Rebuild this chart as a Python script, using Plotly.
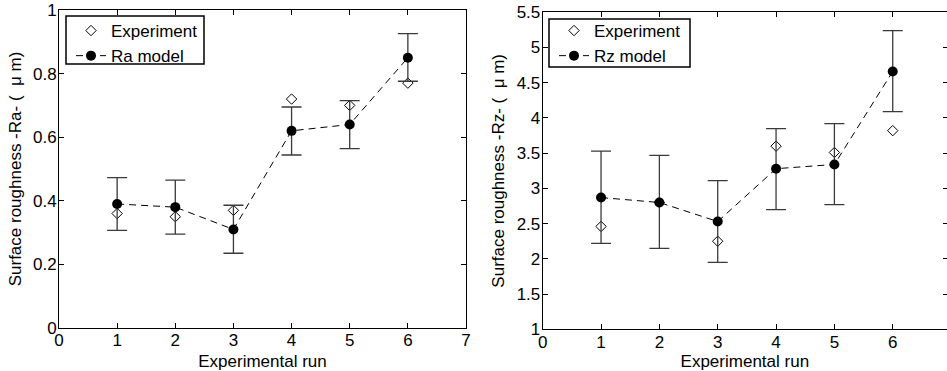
import plotly.graph_objects as go

runs = [1, 2, 3, 4, 5, 6]

ra_exp = [0.36, 0.35, 0.37, 0.72, 0.70, 0.77]
ra_model = [0.39, 0.38, 0.31, 0.62, 0.64, 0.85]
ra_err_plus = [0.083, 0.085, 0.076, 0.075, 0.075, 0.076]
ra_err_minus = [0.083, 0.085, 0.075, 0.076, 0.076, 0.074]

rz_exp = [2.46, 2.80, 2.25, 3.60, 3.51, 3.82]
rz_model = [2.87, 2.80, 2.53, 3.28, 3.34, 4.66]
rz_err_plus = [0.66, 0.67, 0.58, 0.57, 0.58, 0.58]
rz_err_minus = [0.65, 0.65, 0.58, 0.58, 0.57, 0.57]

ra_yticks = [0, 0.2, 0.4, 0.6, 0.8, 1]
ra_yticklabels = ["0", "0.2", "0.4", "0.6", "0.8", "1"]
rz_yticks = [1, 1.5, 2, 2.5, 3, 3.5, 4, 4.5, 5, 5.5]
rz_yticklabels = ["1", "1.5", "2", "2.5", "3", "3.5", "4", "4.5", "5", "5.5"]
left_xticks = [0, 1, 2, 3, 4, 5, 6, 7]
right_xticks = [0, 1, 2, 3, 4, 5, 6]

W, H = 947, 371
FONT = "Arial, Liberation Sans, sans-serif"
FS = 17

def px_x(p):
    return p / W

def px_y(p):
    return 1 - p / H

fig = go.Figure()

exp_marker = dict(symbol="diamond-open", size=8, color="black", line=dict(width=1, color="black"))
mod_marker = dict(symbol="circle", size=10, color="black")
err_style = dict(type="data", visible=True, color="#3a3a3a", thickness=1.3, width=10)

# Left panel
fig.add_trace(go.Scatter(x=runs, y=ra_exp, mode="markers", name="Experiment",
                         marker=exp_marker, xaxis="x", yaxis="y", legend="legend"))
fig.add_trace(go.Scatter(x=runs, y=ra_model, mode="lines+markers", name="Ra model",
                         marker=mod_marker, line=dict(color="black", width=1, dash="7px,5px"),
                         error_y=dict(array=ra_err_plus, arrayminus=ra_err_minus, symmetric=False, **err_style),
                         xaxis="x", yaxis="y", legend="legend"))
# Right panel
fig.add_trace(go.Scatter(x=runs, y=rz_exp, mode="markers", name="Experiment",
                         marker=exp_marker, xaxis="x2", yaxis="y2", legend="legend2"))
fig.add_trace(go.Scatter(x=runs, y=rz_model, mode="lines+markers", name="Rz model",
                         marker=mod_marker, line=dict(color="black", width=1, dash="7px,5px"),
                         error_y=dict(array=rz_err_plus, arrayminus=rz_err_minus, symmetric=False, **err_style),
                         xaxis="x2", yaxis="y2", legend="legend2"))
# invisible trace carrying the right-side ticks of the right panel
fig.add_trace(go.Scatter(x=[None], y=[None], xaxis="x2", yaxis="y3", showlegend=False, hoverinfo="skip"))

axis_common = dict(showgrid=False, zeroline=False, showline=True, linecolor="black", linewidth=1,
                   ticks="inside", ticklen=5, tickcolor="black", tickwidth=1, automargin=False,
                   tickfont=dict(family=FONT, size=FS, color="black"))

# legend frames (drawn as layout shapes, legends themselves are borderless)
legend_boxes = [(66, 16, 204, 64), (549, 19, 690, 67)]
shapes = [dict(type="rect", xref="paper", yref="paper", layer="above",
               x0=px_x(x0), x1=px_x(x1), y0=px_y(y1), y1=px_y(y0),
               line=dict(color="black", width=1.5), fillcolor="white")
          for (x0, y0, x1, y1) in legend_boxes]

fig.update_layout(
    width=W, height=H,
    margin=dict(l=0, r=0, t=0, b=0),
    paper_bgcolor="white", plot_bgcolor="white",
    font=dict(family=FONT, size=FS, color="black"),
    shapes=shapes,
    xaxis=dict(domain=[px_x(59), px_x(466)], range=[0, 7], anchor="y", mirror="ticks",
               tickvals=left_xticks, ticktext=[str(v) for v in left_xticks], ticklabelstandoff=-3,
               title=dict(text="Experimental run", standoff=8, font=dict(family=FONT, size=FS)),
               **axis_common),
    yaxis=dict(domain=[px_y(328), px_y(10)], range=[0, 1], anchor="x", mirror="ticks",
               tickvals=ra_yticks, ticktext=ra_yticklabels, ticklabelstandoff=-2,
               title=dict(text="Surface roughness -Ra- (  \u03bc m)", standoff=7, font=dict(family=FONT, size=FS)),
               **axis_common),
    xaxis2=dict(domain=[px_x(542.7), 1.0], range=[0, 6.93], anchor="y2", mirror="ticks",
                tickvals=right_xticks, ticktext=[str(v) for v in right_xticks], ticklabelstandoff=-3,
                title=dict(text="Experimental run", standoff=8, font=dict(family=FONT, size=FS)),
                **axis_common),
    yaxis2=dict(domain=[px_y(329.3), px_y(12.3)], range=[1, 5.5], anchor="x2", mirror=False,
                tickvals=rz_yticks, ticktext=rz_yticklabels, ticklabelstandoff=-2,
                title=dict(text="Surface roughness -Rz- (  \u03bc m)", standoff=7, font=dict(family=FONT, size=FS)),
                **axis_common),
    yaxis3=dict(overlaying="y2", anchor="x2", side="right", range=[1, 5.5], showgrid=False, zeroline=False,
                showline=False, ticks="inside", ticklen=4, tickcolor="black", tickvals=rz_yticks,
                showticklabels=False, automargin=False),
    legend=dict(x=px_x(71), y=px_y(13), xanchor="left", yanchor="top",
                bgcolor="rgba(0,0,0,0)", borderwidth=0,
                font=dict(family=FONT, size=FS, color="black")),
    legend2=dict(x=px_x(554), y=px_y(13), xanchor="left", yanchor="top",
                 bgcolor="rgba(0,0,0,0)", borderwidth=0,
                 font=dict(family=FONT, size=FS, color="black")),
    showlegend=True,
)

fig.write_html("out.html")
